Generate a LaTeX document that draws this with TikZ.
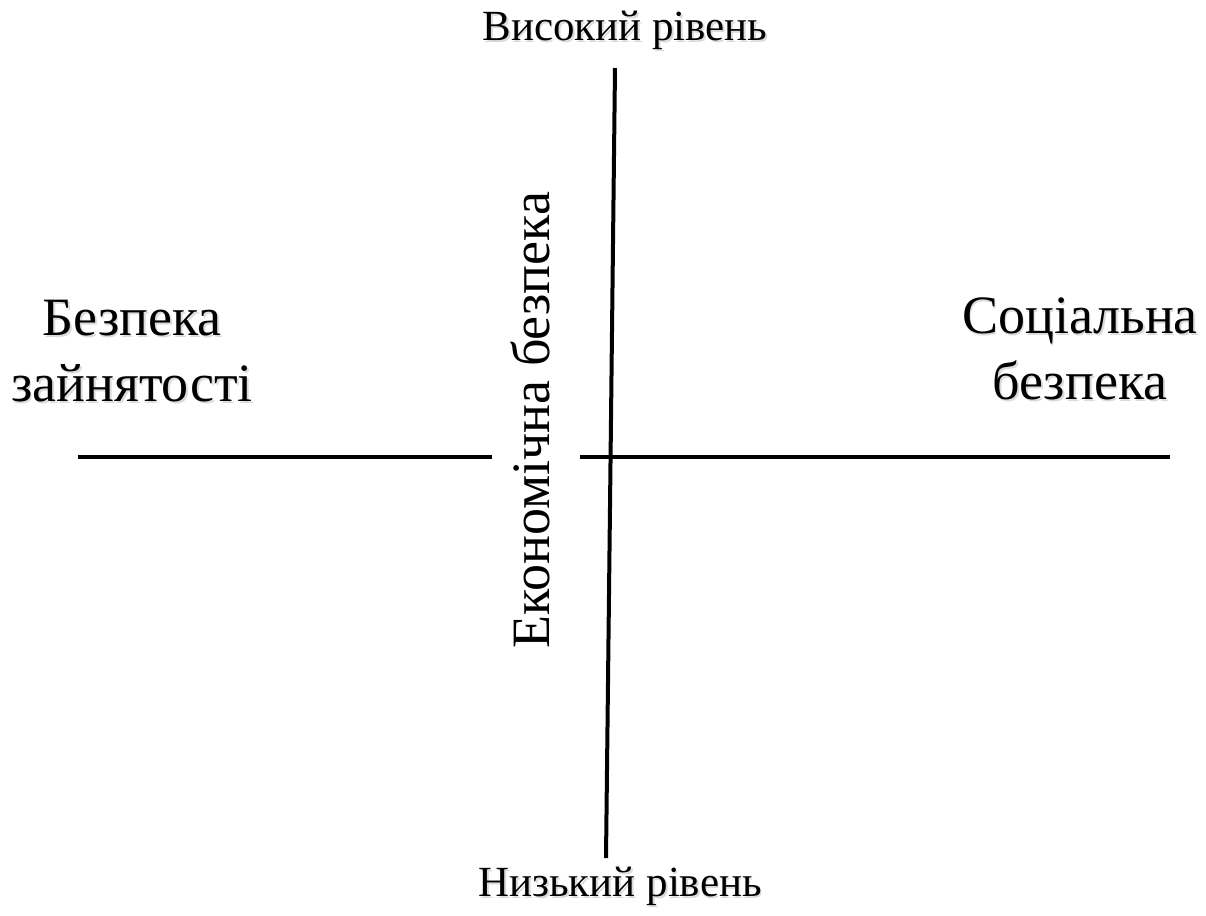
\documentclass[tikz,border=0pt]{standalone}
\usepackage{fontspec}
\setmainfont{Liberation Serif}
\usetikzlibrary{positioning}

% text with a soft grey shadow
\newcommand{\shd}[1]{\leavevmode\rlap{\kern0.9pt\raisebox{-0.9pt}{\color{black!14}#1}}#1}

\tikzset{
  axis/.style={line width=2pt},
  lvl/.style={font=\fontsize{21.5}{26}\selectfont},
  side/.style={font=\fontsize{27}{33}\selectfont, align=center},
}

\begin{document}
\begin{tikzpicture}[x=0.5pt,y=-0.5pt]
\useasboundingbox (0,0) rectangle (1206,916);

\coordinate (top) at (615,68);
\coordinate (bot) at (606,858);
\coordinate (w1) at (78,457);
\coordinate (w2) at (492,457);
\coordinate (e1) at (580,457);
\coordinate (e2) at (1170,457);

\draw[axis] (top) -- (bot);
\draw[axis] (w1) -- (w2);
\draw[axis] (e1) -- (e2);

\node[lvl] (high) at (625,31) {\shd{Високий рівень}};
\node[lvl] (low) at (620,887) {\shd{Низький рівень}};

\node[side] (empl) at (132,352) {\shd{Безпека}\\\shd{зайнятості}};
\node[side] (soc) at (1080,350) {\shd{Соціальна}\\\shd{безпека}};

\node[side, rotate=90] (econ) at (530,420) {Економічна безпека};
\end{tikzpicture}
\end{document}
